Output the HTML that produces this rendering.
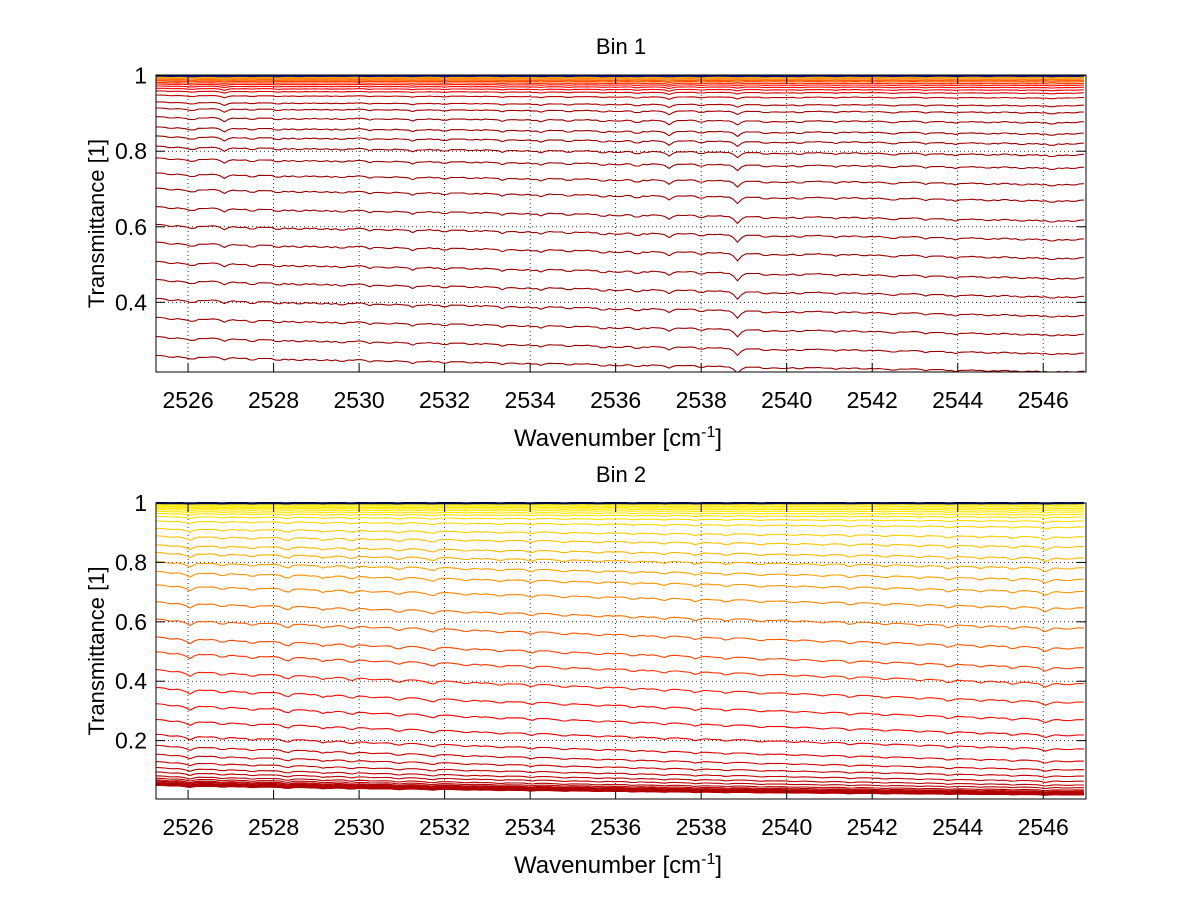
<!DOCTYPE html>
<html><head><meta charset="utf-8"><style>
html,body{margin:0;padding:0;background:#fff;}
svg text{font-family:"Liberation Sans",sans-serif;fill:#000;}
</style></head><body>
<svg id="chart" width="1200" height="901" viewBox="0 0 1200 901" xmlns="http://www.w3.org/2000/svg">
<rect width="1200" height="901" fill="#fff"/>
</svg>
<script>
// ---- data ----
const xTicks = [2526,2528,2530,2532,2534,2536,2538,2540,2542,2544,2546];
const yTicks1 = [0.4,0.6,0.8,1];
const yTicks2 = [0.2,0.4,0.6,0.8,1];
const yTickLabels1 = ["0.4","0.6","0.8","1"];
const yTickLabels2 = ["0.2","0.4","0.6","0.8","1"];
// Bin 1 left-edge transmittance levels of each spectrum
const levels1 = [0.999,0.997,0.995,0.992,0.989,0.986,0.982,0.978,0.973,0.967,0.96,0.949,0.931,0.915,0.892,0.865,0.841,0.814,0.783,0.743,0.703,0.654,0.607,0.56,0.509,0.461,0.411,0.361,0.31,0.26];
// Bin 2 left-edge levels
const levels2 = [0.998,0.995,0.991,0.987,0.983,0.978,0.972,0.965,0.955,0.94,0.915,0.89,0.86,0.834,0.803,0.77,0.725,0.668,0.61,0.55,0.5,0.44,0.38,0.325,0.272,0.222,0.185,0.155,0.13,0.11,0.095,0.082,0.074,0.068,0.064,0.06,0.057,0.054,0.052,0.05];
// absorption features (position in cm-1, relative depth for weak / strong absorbance)
const feat1Pos = [2525.6,2526.1,2526.85,2527.5,2528.1,2528.6,2529.1,2529.6,2530.25,2530.7,2531.25,2532.0,2532.6,2533.35,2533.8,2534.26,2534.9,2535.7,2536.1,2536.5,2537.25,2538.0,2538.85,2539.5,2539.9,2540.3,2541.15,2541.8,2542.5,2543.25,2543.95,2544.7,2545.5,2546.2,2546.7];
const feat1Weak = [0.4,1.0,1.6,0.7,0.8,0.6,0.4,0.5,0.6,0.4,0.8,0.7,0.4,0.8,0.4,0.9,0.9,0.8,0.5,1.2,1.8,0.9,1.2,0.8,0.5,0.9,0.7,0.4,0.8,0.7,0.6,0.6,0.7,1.0,0.4];
const feat1Strong = [0.5,0.9,0.8,0.9,0.8,0.7,0.6,0.8,0.7,0.6,0.9,0.8,0.6,0.8,0.6,0.8,0.7,0.9,0.6,0.9,1.0,0.8,2.2,0.8,0.6,0.7,0.6,0.5,0.7,0.6,0.7,0.6,0.6,0.7,0.5];
const feat2Pos = [2525.6,2526.05,2526.8,2527.5,2528.3,2529.15,2529.8,2530.3,2530.9,2531.7,2532.5,2533.3,2534.0,2534.8,2535.6,2536.4,2537.13,2537.87,2538.6,2539.4,2540.2,2540.8,2541.5,2542.3,2543.1,2543.8,2544.55,2545.3,2546.07,2546.6];
const feat2Depth = [0.5,1.5,1.0,1.0,1.1,1.0,0.9,0.6,1.0,1.1,0.8,0.9,0.7,0.9,0.8,0.9,0.9,1.1,0.8,0.9,0.6,0.6,0.8,0.6,0.9,1.0,0.8,0.9,1.6,0.6];
// fine jagged structure seen on all spectra
const finePos = [2525.9,2526.4,2527.2,2527.8,2528.35,2528.85,2529.35,2529.85,2530.5,2531.0,2531.5,2531.75,2532.3,2532.85,2533.1,2533.6,2534.05,2534.6,2535.2,2535.45,2535.95,2536.75,2537.0,2537.6,2538.3,2538.55,2539.2,2539.7,2540.05,2540.6,2540.9,2541.45,2542.05,2542.3,2542.8,2543.5,2543.75,2544.2,2544.45,2544.95,2545.25,2545.75,2545.95,2546.45];
const fineDepth = [0.6,0.5,0.7,0.4,0.6,0.5,0.7,0.4,0.5,0.6,0.7,0.5,0.4,0.6,0.5,0.4,0.6,0.5,0.6,0.4,0.5,0.6,0.4,0.5,0.6,0.4,0.5,0.6,0.4,0.5,0.6,0.5,0.4,0.6,0.5,0.4,0.6,0.5,0.4,0.6,0.5,0.4,0.6,0.5];
const tilt1 = 0.13;
const tilt2 = 0.35;

// ---- layout ----
const NS = "http://www.w3.org/2000/svg";
const svg = document.getElementById('chart');
const X0 = 2525.25, X1 = 2547.0;
function mk(tag, attrs, parent){const e=document.createElementNS(NS,tag);for(const k in attrs)e.setAttribute(k,attrs[k]);(parent||svg).appendChild(e);return e;}
function jet(t){const c=v=>Math.max(0,Math.min(1,v));const r=c(1.5-Math.abs(4*t-3)),g=c(1.5-Math.abs(4*t-2)),b=c(1.5-Math.abs(4*t-1));return `rgb(${Math.round(r*255)},${Math.round(g*255)},${Math.round(b*255)})`;}
function profile(x,pos,dep,wd){let s=0;for(let j=0;j<pos.length;j++){const d=(x-pos[j])/wd;s+=dep[j]/(1+d*d);}return s;}

function panel(opt){
  const L=156,R=1086,T=opt.top,B=opt.bottom;
  const sx=v=>L+(v-X0)/(X1-X0)*(R-L);
  const sy=v=>B-(v-opt.ymin)/(opt.ymax-opt.ymin)*(B-T);
  const g=mk('g',{});
  
  
  const clipId='clip'+opt.name;
  const cp=mk('clipPath',{id:clipId},g);mk('rect',{x:L,y:T-1,width:R-L,height:B-T+1},cp);
  const grid=mk('g',{stroke:'#000','stroke-width':0.8,'stroke-dasharray':'1,3'},g);
  
  
  xTicks.forEach(v=>mk('line',{x1:sx(v),x2:sx(v),y1:T,y2:B},grid));
  opt.yTicks.forEach(v=>mk('line',{x1:L,x2:R,y1:sy(v),y2:sy(v)},grid));
  const lines=mk('g',{'clip-path':`url(#${clipId})`,fill:'none','stroke-width':1.1},g);
  
  
  const xs=[];for(let x=X0;x<=X1+1e-9;x+=0.1)xs.push(x);
  const lv=opt.levels;
  for(let i=lv.length-1;i>=0;i--){
    const A0=-Math.log(lv[i]);
    const w=Math.exp(-A0/0.3);
    const s=0.05*(0.3+A0)*opt.dipScale;
    let d='';
    xs.forEach((x,k)=>{
      const f=(x-X0)/(X1-X0);
      const main=opt.feat2?profile(x,opt.featPos,opt.featA,0.09):(w*profile(x,opt.featPos,opt.featA,0.09)+(1-w)*profile(x,opt.featPos,opt.featB,0.09));
      const dip=main+0.6*profile(x,finePos,fineDepth,0.06);
      const A=A0*(1+opt.tilt*f)+s*dip*Math.min(1,A0*8+0.15);
      d+=(k?'L':'M')+sx(x).toFixed(1)+','+sy(Math.exp(-A)).toFixed(1);
    });
    const p=mk('path',{d:d,stroke:jet(opt.colorT(A0))},lines);
    
    
  }
  let db='';
  xs.forEach((x,k)=>{db+=(k?'L':'M')+sx(x).toFixed(1)+','+sy(1-0.0015*Math.min(1,profile(x,opt.featPos,opt.featA,0.09))).toFixed(1);});
  const bl=mk('path',{d:db,stroke:'#00128a','stroke-width':2.2},lines);
  
  
  const box=mk('rect',{x:L,y:T,width:R-L,height:B-T,fill:'none',stroke:'#000','stroke-width':1},g);
  
  
  const tk=mk('g',{stroke:'#000','stroke-width':1},g);
  xTicks.forEach(v=>{mk('line',{x1:sx(v),x2:sx(v),y1:B,y2:B-9},tk);mk('line',{x1:sx(v),x2:sx(v),y1:T,y2:T+9},tk);});
  opt.yTicks.forEach(v=>{mk('line',{x1:L,x2:L+9,y1:sy(v),y2:sy(v)},tk);mk('line',{x1:R,x2:R-9,y1:sy(v),y2:sy(v)},tk);});
  xTicks.forEach(v=>{const t=mk('text',{x:sx(v),y:B+36,'text-anchor':'middle','font-size':23},g);t.textContent=String(v);
    
    });
  opt.yTicks.forEach((v,i)=>{const t=mk('text',{x:L-9,y:sy(v)+8,'text-anchor':'end','font-size':23},g);t.textContent=opt.yLabels[i];
    
    });
  const tt=mk('text',{x:621,y:T-21,'text-anchor':'middle','font-size':22},g);tt.textContent=opt.title;
  
  
  const xl=mk('text',{x:618,y:B+74,'text-anchor':'middle','font-size':24},g);
  
  
  xl.appendChild(document.createTextNode('Wavenumber [cm'));
  const sup=mk('tspan',{dy:-9,'font-size':16},xl);sup.textContent='-1';
  const cl=mk('tspan',{dy:9},xl);cl.textContent=']';
  const cy=(T+B)/2;
  const yl=mk('text',{x:0,y:0,transform:`translate(104,${cy}) rotate(-90)`,'text-anchor':'middle','font-size':22},g);yl.textContent='Transmittance [1]';
  
  
}

panel({name:'bin-1-plot',title:'Bin 1',top:75,bottom:372,ymin:0.2155,ymax:1.0018,yTicks:yTicks1,yLabels:yTickLabels1,
  levels:levels1,featPos:feat1Pos,featA:feat1Weak,featB:feat1Strong,feat2:false,tilt:tilt1,dipScale:0.5,
  colorT:A=>0.975-0.3*Math.exp(-A/0.025)});
panel({name:'bin-2-plot',title:'Bin 2',top:503,bottom:799,ymin:0.0035,ymax:1.0,yTicks:yTicks2,yLabels:yTickLabels2,
  levels:levels2,featPos:feat2Pos,featA:feat2Depth,featB:feat2Depth,feat2:true,tilt:tilt2,dipScale:0.5,
  colorT:A=>0.64+0.32*(1-Math.exp(-A/0.8))});
</script>
</body></html>
